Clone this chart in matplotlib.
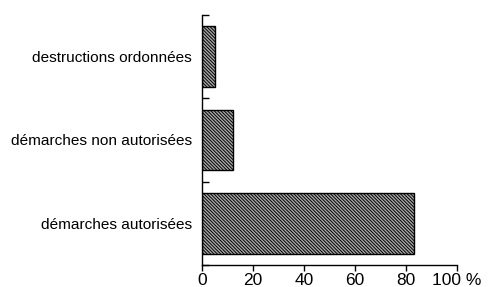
import matplotlib
matplotlib.use('Agg')
import matplotlib.pyplot as plt

# ── Data ────────────────────────────────────────────────
categories = ['démarches autorisées', 'démarches non autorisées', 'destructions ordonnées']
values = [83, 12, 5]
xticks = [0, 20, 40, 60, 80, 100]
xticklabels = ['0', '20', '40', '60', '80', '100 %']

plt.rcParams['font.family'] = ['Liberation Sans', 'DejaVu Sans']
plt.rcParams['hatch.linewidth'] = 0.7

fig = plt.figure(figsize=(4.89, 2.87), dpi=100)
ax = fig.add_axes([0.413, 0.0767, 0.5214, 0.8713])

ypos = list(range(len(categories)))
ax.barh(ypos, values, height=0.73, color='#a8a8a8', edgecolor='black',
        hatch='\\' * 10, linewidth=1.0)

ax.set_xlim(0, 100)
ax.set_ylim(-0.5, len(categories) - 0.5)

ax.set_yticks(ypos)
ax.set_yticklabels(categories, fontsize=11.1)
ax.tick_params(axis='y', which='major', length=0, pad=7)
ax.set_yticks([y - 0.5 for y in ypos] + [len(categories) - 0.5], minor=True)
ax.tick_params(axis='y', which='minor', direction='in', length=5, width=1)

ax.set_xticks(xticks)
ax.set_xticklabels(xticklabels, fontsize=12.5)
ax.tick_params(axis='x', direction='out', length=4, width=1, pad=2)

ax.spines['top'].set_visible(False)
ax.spines['right'].set_visible(False)
ax.spines['left'].set_linewidth(1)
ax.spines['bottom'].set_linewidth(1)

fig.savefig('out.png', dpi=100, facecolor='white')
plt.close(fig)
